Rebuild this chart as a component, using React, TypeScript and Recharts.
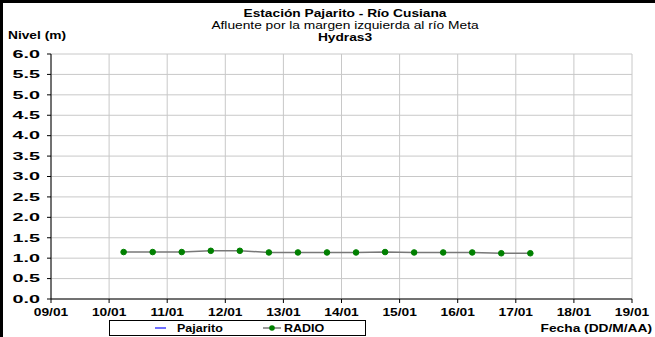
import { LineChart, Line, XAxis, YAxis, CartesianGrid } from "recharts";

// sample times as day-of-January (10.25 = 10/01 06:00)
const sampleDays = [10.25, 10.75, 11.25, 11.75, 12.25, 12.75, 13.25, 13.75, 14.25, 14.75, 15.25, 15.75, 16.25, 16.75, 17.25];
const radioLevels = [1.15, 1.15, 1.15, 1.18, 1.18, 1.14, 1.14, 1.14, 1.14, 1.15, 1.14, 1.14, 1.14, 1.12, 1.12];
const pajaritoLevels: (number | null)[] = sampleDays.map(() => null);

const xTickDays = [9, 10, 11, 12, 13, 14, 15, 16, 17, 18, 19];
const yTicks = [0, 0.5, 1, 1.5, 2, 2.5, 3, 3.5, 4, 4.5, 5, 5.5, 6];

const titleLines = ["Estación Pajarito - Río Cusiana", "Afluente por la margen izquierda al río Meta", "Hydras3"];
const yLabel = "Nivel (m)";
const xLabel = "Fecha (DD/M/AA)";
const legendNames = ["Pajarito", "RADIO"];

const data = sampleDays.map((d, i) => ({
  day: d,
  radio: radioLevels[i],
  pajarito: pajaritoLevels[i],
}));

const font = "'Liberation Sans', Arial, sans-serif";
const SX = 1.25; // reference text is a bit wider than plain Arial

function fmtDay(d: number) {
  return `${String(d).padStart(2, "0")}/01`;
}

// text drawn with a horizontal stretch
function Wide({ x, y, children, anchor = "middle", size = 11, bold = true, sx = SX }: any) {
  return (
    <g transform={`translate(${x},${y}) scale(${sx},1)`}>
      <text
        x={0}
        y={0}
        textAnchor={anchor}
        dominantBaseline="central"
        style={{ fontFamily: font, fontSize: size, fontWeight: bold ? 700 : 400, fill: "#000" }}
      >
        {children}
      </text>
    </g>
  );
}

function XTick({ x, y, payload }: any) {
  return <Wide x={x} y={y + 7}>{fmtDay(payload.value)}</Wide>;
}

function YTick({ x, y, payload }: any) {
  return (
    <Wide x={x - 1} y={y} anchor="end" sx={1.8}>
      {payload.value.toFixed(1)}
    </Wide>
  );
}

export default function App() {
  return (
    <div
      style={{
        position: "fixed",
        left: 0,
        top: 0,
        width: 655,
        height: 337,
        background: "#fff",
        overflow: "hidden",
      }}
    >
      <LineChart width={655} height={337} data={data} margin={{ top: 54, right: 23, bottom: 8, left: 8 }}>
        <CartesianGrid stroke="#c8c8c8" strokeWidth={1} />
        <XAxis
          dataKey="day"
          type="number"
          domain={[9, 19]}
          ticks={xTickDays}
          interval={0}
          height={30}
          tick={<XTick />}
          tickLine={{ stroke: "#000" }}
          axisLine={{ stroke: "#000" }}
          tickSize={4}
        />
        <YAxis
          type="number"
          domain={[0, 6]}
          ticks={yTicks}
          interval={0}
          width={43}
          tick={<YTick />}
          tickLine={{ stroke: "#000" }}
          axisLine={{ stroke: "#000" }}
          tickSize={4}
          tickMargin={6}
        />
        <Line
          dataKey="pajarito"
          stroke="#6f6fff"
          strokeWidth={1.5}
          dot={false}
          isAnimationActive={false}
        />
        <Line
          dataKey="radio"
          stroke="#787878"
          strokeWidth={1.5}
          dot={{ r: 2.8, fill: "#008000", stroke: "#008000", strokeWidth: 1 }}
          isAnimationActive={false}
        />
      </LineChart>

      <svg width={655} height={337} style={{ position: "absolute", left: 0, top: 0, pointerEvents: "none" }}>
        {/* frame */}
        <rect x={0} y={0} width={655} height={3} fill="#000" />
        <rect x={0} y={0} width={3} height={337} fill="#000" />

        <Wide x={345} y={13}>{titleLines[0]}</Wide>
        <Wide x={345} y={25} bold={false}>{titleLines[1]}</Wide>
        <Wide x={345} y={37}>{titleLines[2]}</Wide>

        <Wide x={8} y={35} anchor="start">{yLabel}</Wide>
        <Wide x={652} y={328} anchor="end">{xLabel}</Wide>

        <rect x={109.5} y={320.5} width={256} height={15} fill="#fff" stroke="#000" strokeWidth={1} />
        <line x1={155} x2={166} y1={328} y2={328} stroke="#6f6fff" strokeWidth={2} />
        <Wide x={177} y={328.5} anchor="start" size={10}>{legendNames[0]}</Wide>
        <line x1={263} x2={281} y1={328} y2={328} stroke="#787878" strokeWidth={1.5} />
        <circle cx={272} cy={328} r={2.8} fill="#008000" />
        <Wide x={284} y={328.5} anchor="start" size={10}>{legendNames[1]}</Wide>
      </svg>
    </div>
  );
}
